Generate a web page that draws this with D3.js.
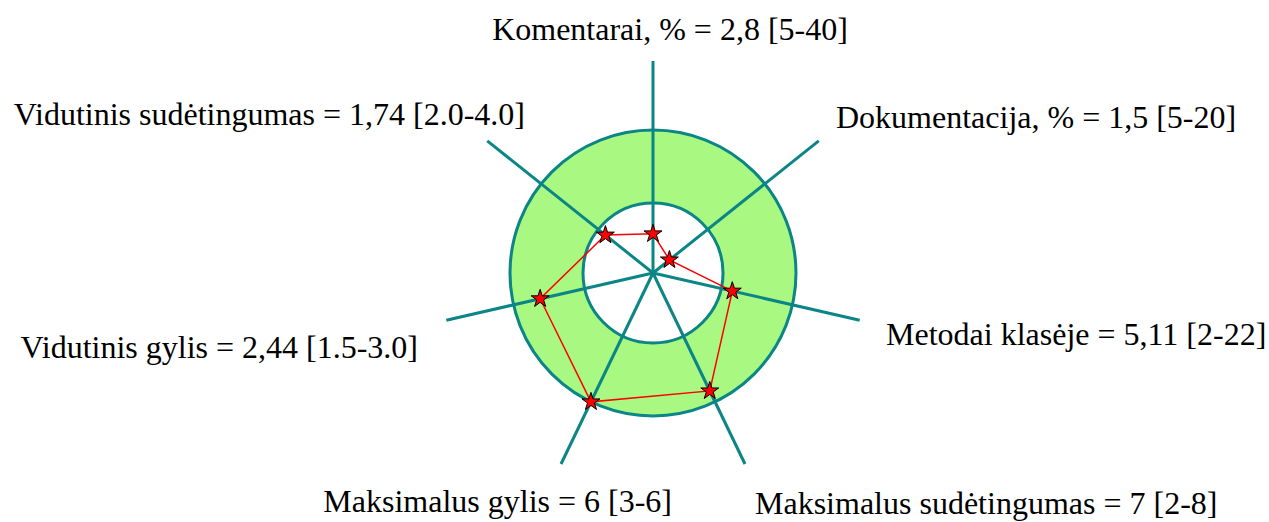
<!DOCTYPE html>
<html>
<head>
<meta charset="utf-8">
<script src="https://cdn.jsdelivr.net/npm/d3@7"></script>
<style>
  body { margin: 0; background: #fff; }
  #chart text { font-family: "Liberation Serif", "Times New Roman", serif; fill: #000; }
</style>
</head>
<body>
<div id="chart"></div>
<script>
// metrics, clockwise from the top
var metricNames = ["Komentarai, %", "Dokumentacija, %", "Metodai klasėje", "Maksimalus sudėtingumas",
                   "Maksimalus gylis", "Vidutinis gylis", "Vidutinis sudėtingumas"];
var metricValues = [2.8, 1.5, 5.11, 7, 6, 2.44, 1.74];
var valueText = ["2,8", "1,5", "5,11", "7", "6", "2,44", "1,74"];
var rangeMin = [5, 5, 2, 2, 3, 1.5, 2.0];
var rangeMax = [40, 20, 22, 8, 6, 3.0, 4.0];
var rangeText = ["5-40", "5-20", "2-22", "2-8", "3-6", "1.5-3.0", "2.0-4.0"];

var W = 1269, H = 522;
var cx = 653, cy = 273;
var rInner = 70, rOuter = 143, axisLen = 212;

// label placement [x, y, anchor]
var labelPos = [
    [670, 40, "middle"],
    [836, 128, "start"],
    [886, 345, "start"],
    [755, 514, "start"],
    [672, 512, "end"],
    [418, 358, "end"],
    [525, 125, "end"]
];

var svg = d3.select("#chart").append("svg")
    .attr("width", W)
    .attr("height", H);

var n = metricNames.length;
var angle = d3.scaleLinear().domain([0, n]).range([-Math.PI / 2, 1.5 * Math.PI]);

// one radial scale per axis: 0 -> centre, min -> inner ring, max -> outer ring
var scales = metricNames.map(function(d, i) {
    return d3.scaleLinear()
        .domain([0, rangeMin[i], rangeMax[i]])
        .range([0, rInner, rOuter]);
});

var teal = "#0b8585";

svg.append("circle")
    .attr("cx", cx).attr("cy", cy).attr("r", rOuter)
    .attr("fill", "#a8f882")
    .attr("stroke", teal)
    .attr("stroke-width", 3);

svg.append("circle")
    .attr("cx", cx).attr("cy", cy).attr("r", rInner)
    .attr("fill", "#fff")
    .attr("stroke", teal)
    .attr("stroke-width", 3);

svg.append("g").selectAll("line")
    .data(metricNames)
    .enter().append("line")
    .attr("x1", cx).attr("y1", cy)
    .attr("x2", function(d, i) { return cx + axisLen * Math.cos(angle(i)); })
    .attr("y2", function(d, i) { return cy + axisLen * Math.sin(angle(i)); })
    .attr("stroke", teal)
    .attr("stroke-width", 3);

var pts = metricValues.map(function(v, i) {
    var r = scales[i](v);
    return [cx + r * Math.cos(angle(i)), cy + r * Math.sin(angle(i))];
});

svg.append("path")
    .attr("d", d3.line().curve(d3.curveLinearClosed)(pts))
    .attr("fill", "none")
    .attr("stroke", "#ff0000")
    .attr("stroke-width", 1.5);

svg.append("g").selectAll("path")
    .data(pts)
    .enter().append("path")
    .attr("transform", function(d) { return "translate(" + d[0] + "," + d[1] + ")"; })
    .attr("d", d3.symbol().type(d3.symbolStar).size(100))
    .attr("fill", "#ff0000")
    .attr("stroke", "#000")
    .attr("stroke-width", 1);

svg.append("g").selectAll("text")
    .data(metricNames)
    .enter().append("text")
    .attr("x", function(d, i) { return labelPos[i][0]; })
    .attr("y", function(d, i) { return labelPos[i][1]; })
    .attr("text-anchor", function(d, i) { return labelPos[i][2]; })
    .style("font-size", "32px")
    .text(function(d, i) { return d + " = " + valueText[i] + " [" + rangeText[i] + "]"; });
</script>
</body>
</html>
